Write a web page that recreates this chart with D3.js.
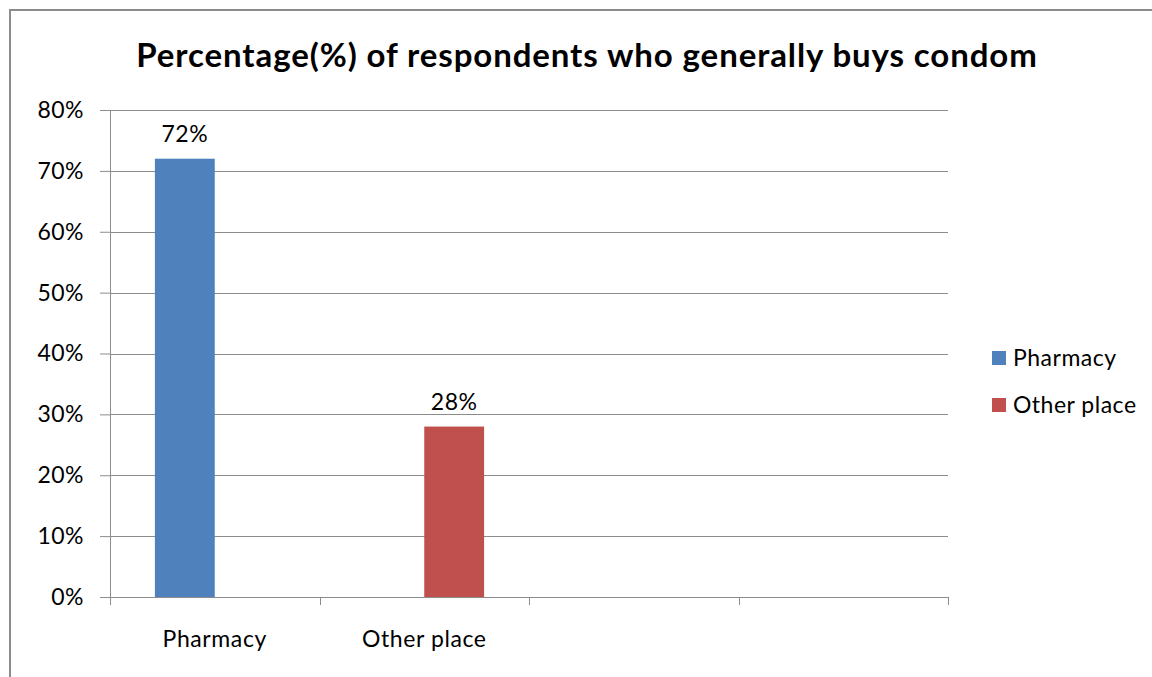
<!DOCTYPE html>
<html>
<head>
<meta charset="utf-8">
<script src="https://cdn.jsdelivr.net/npm/d3@7"></script>
<style>
  body { margin: 0; background: #fff; }
  svg text { font-family: Lato, "Open Sans", sans-serif; fill: #000; }
</style>
</head>
<body>
<div id="chart"></div>
<script>
// data
var categories = ["Pharmacy", "Other place", "", ""];
var seriesNames = ["Pharmacy", "Other place"];
var pharmacyValues = [72, null, null, null];
var otherPlaceValues = [null, 28, null, null];
var yTicks = [0, 10, 20, 30, 40, 50, 60, 70, 80];
var colors = ["#4F81BD", "#C0504D"];
var title = "Percentage(%) of respondents who generally buys condom";

var svgWidth = 1152;
var svgHeight = 677;
var margin = {top: 110, right: 204, bottom: 80, left: 110};
var width = svgWidth - margin.left - margin.right;   // 838
var height = svgHeight - margin.top - margin.bottom; // 487

var svg = d3.select("#chart").append("svg")
  .attr("width", svgWidth)
  .attr("height", svgHeight);

// chart border
svg.append("rect")
  .attr("x", 10).attr("y", 10)
  .attr("width", svgWidth + 20).attr("height", svgHeight + 20)
  .attr("fill", "none")
  .attr("stroke", "#8c8c8c")
  .attr("stroke-width", 2);

svg.append("text")
  .attr("x", 587).attr("y", 67)
  .attr("text-anchor", "middle")
  .attr("font-size", 33)
  .attr("font-weight", "bold")
  .attr("letter-spacing", 0.9)
  .text(title);

var chartGroup = svg.append("g")
  .attr("transform", `translate(${margin.left}, ${margin.top})`);

var x0 = d3.scaleBand().domain(d3.range(categories.length)).range([0, width]);
var x1 = d3.scaleBand().domain(d3.range(seriesNames.length))
  .range([0, x0.bandwidth()]).paddingInner(0).paddingOuter(0.75);
var y = d3.scaleLinear().domain([0, 80]).range([height, 0]);

// gridlines
chartGroup.selectAll(".grid").data(yTicks).enter().append("line")
  .attr("x1", 0).attr("x2", width)
  .attr("y1", d => Math.round(y(d)) + 0.5).attr("y2", d => Math.round(y(d)) + 0.5)
  .attr("stroke", "#8c8c8c").attr("stroke-width", 1);

// y axis
var leftAxis = d3.axisLeft(y).tickValues(yTicks).tickFormat(d => d + "%").tickSize(10).tickPadding(16);
var yAxisG = chartGroup.append("g").call(leftAxis);
yAxisG.select(".domain").attr("stroke", "#8c8c8c").attr("d", `M0.5,0V${height}`);
yAxisG.selectAll(".tick line").attr("stroke", "#8c8c8c");
yAxisG.selectAll(".tick text").attr("font-size", 23).attr("fill", "#000")
  .attr("letter-spacing", 0.5)
  .style("font-family", "Lato, 'Open Sans', sans-serif");

// x axis
var xTickPos = d3.range(categories.length + 1).map(i => i * x0.step());
var xAxisG = chartGroup.append("g").attr("transform", `translate(0, ${height})`);
xAxisG.append("line").attr("x1", 0).attr("x2", width).attr("y1", 0.5).attr("y2", 0.5)
  .attr("stroke", "#8c8c8c");
xAxisG.selectAll(".xt").data(xTickPos).enter().append("line")
  .attr("x1", d => Math.round(d) + 0.5).attr("x2", d => Math.round(d) + 0.5)
  .attr("y1", 0).attr("y2", 8).attr("stroke", "#8c8c8c");
xAxisG.selectAll(".xl").data(categories).enter().append("text")
  .attr("x", (d, i) => x0(i) + x0.bandwidth() / 2)
  .attr("y", 50)
  .attr("text-anchor", "middle")
  .attr("font-size", 23)
  .attr("letter-spacing", 0.6)
  .text(d => d);

// bars
var allSeries = [pharmacyValues, otherPlaceValues];
allSeries.forEach(function(vals, s) {
  var pts = vals.map((v, i) => ({i: i, v: v})).filter(d => d.v != null);
  chartGroup.selectAll(".bar" + s).data(pts).enter().append("rect")
    .attr("x", d => x0(d.i) + x1(s))
    .attr("y", d => y(d.v))
    .attr("width", x1.bandwidth())
    .attr("height", d => height - y(d.v))
    .attr("fill", colors[s]);
  chartGroup.selectAll(".lab" + s).data(pts).enter().append("text")
    .attr("x", d => x0(d.i) + x1(s) + x1.bandwidth() / 2)
    .attr("y", d => y(d.v) - 17)
    .attr("text-anchor", "middle")
    .attr("font-size", 23)
    .attr("letter-spacing", 0.5)
    .text(d => d.v + "%");
});

// legend
var legend = svg.append("g").attr("transform", "translate(992, 351)");
seriesNames.forEach(function(name, i) {
  var g = legend.append("g").attr("transform", `translate(0, ${i * 47})`);
  g.append("rect").attr("width", 14).attr("height", 14).attr("fill", colors[i]);
  g.append("text").attr("x", 21).attr("y", 15).attr("font-size", 23)
    .attr("letter-spacing", 0.5).text(name);
});
</script>
</body>
</html>
